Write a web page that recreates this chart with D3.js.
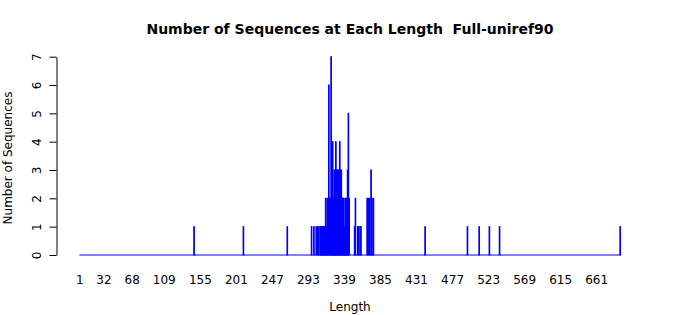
<!DOCTYPE html>
<html>
<head>
<meta charset="utf-8">
<script src="https://cdn.jsdelivr.net/npm/d3@7"></script>
<style>
  html, body { margin: 0; padding: 0; background: #ffffff; }
  svg { display: block; font-family: "DejaVu Sans", sans-serif; }
</style>
</head>
<body>
<svg id="chart" width="700" height="315"></svg>
<script>
// ---- data ----
const maxLength = 691;
const lengths = [147, 210, 266,
  297, 300, 303, 305, 306, 308, 309, 310, 311, 312, 313, 314,
  315, 316, 317, 319, 320, 321, 322, 323, 324, 325,
  326, 327, 328, 329, 330, 331, 332, 333, 334, 335, 336, 337, 338, 339, 340, 341, 342, 343, 344, 345,
  352, 353, 356, 357, 359, 360,
  368, 370, 371, 373, 374, 376,
  442, 496, 511, 524, 537, 691];
const counts = [1, 1, 1,
  1, 1, 1, 1, 1, 1, 1, 1, 1, 1, 1, 1,
  2, 1, 2, 6, 2, 2, 7, 2, 4, 2,
  3, 3, 4, 3, 3, 3, 2, 4, 3, 3, 2, 2, 2, 1, 2, 2, 2, 3, 5, 2,
  1, 2, 1, 1, 1, 1,
  2, 2, 2, 3, 2, 2,
  1, 1, 1, 1, 1, 1];
const xTickLabels = [1, 32, 68, 109, 155, 201, 247, 293, 339, 385, 431, 477, 523, 569, 615, 661];
const yTickValues = [0, 1, 2, 3, 4, 5, 6, 7];
const titleText = "Number of Sequences at Each Length  Full-uniref90";
const xTitle = "Length";
const yTitle = "Number of Sequences";

// ---- layout ----
const svg = d3.select("#chart");
const step = 0.78333;
const firstCenter = 79.7;
const x0 = firstCenter - step / 2;
const categories = d3.range(1, maxLength + 1);
const x = d3.scaleBand()
  .domain(categories)
  .range([x0, x0 + maxLength * step])
  .paddingInner(1 / 6)
  .paddingOuter(1 / 12);
const y = d3.scaleLinear().domain([0, 7]).range([255, 56.7]);

const blue = "#0000ff";

// baseline formed by the zero-height bars
svg.append("line")
  .attr("x1", x(1)).attr("x2", x(maxLength) + x.bandwidth())
  .attr("y1", y(0)).attr("y2", y(0))
  .attr("stroke", blue).attr("stroke-width", 1);

// bars
const data = lengths.map((l, i) => ({ len: l, n: counts[i] }));
svg.append("g").selectAll("rect")
  .data(data)
  .join("rect")
  .attr("x", d => x(d.len))
  .attr("width", x.bandwidth())
  .attr("y", d => y(d.n))
  .attr("height", d => y(0) - y(d.n))
  .attr("fill", blue)
  .attr("stroke", blue)
  .attr("stroke-width", 1);

// y axis
const yAxis = d3.axisLeft(y).tickValues(yTickValues).tickSize(7).tickSizeOuter(0).tickFormat("");
const gy = svg.append("g").attr("transform", "translate(56.5,0)").call(yAxis);
gy.select(".domain").attr("stroke", "#000");
gy.selectAll(".tick line").attr("stroke", "#000");
gy.selectAll(".tick").append("text")
  .attr("transform", "translate(-15.5,0) rotate(-90)")
  .attr("text-anchor", "middle")
  .attr("fill", "#000")
  .style("font-size", "12px")
  .style("font-family", "DejaVu Sans, sans-serif")
  .text(d => d);

// x tick labels (no axis line, as in the reference)
svg.append("g").selectAll("text")
  .data(xTickLabels)
  .join("text")
  .attr("x", d => x(d) + x.bandwidth() / 2)
  .attr("y", 284)
  .attr("text-anchor", "middle")
  .style("font-size", "12px")
  .text(d => d);

// titles
svg.append("text")
  .attr("x", 350).attr("y", 34)
  .attr("text-anchor", "middle")
  .style("font-size", "14px")
  .style("font-weight", "bold")
  .style("white-space", "pre")
  .text(titleText);

svg.append("text")
  .attr("x", 350).attr("y", 311)
  .attr("text-anchor", "middle")
  .style("font-size", "12px")
  .text(xTitle);

svg.append("text")
  .attr("transform", "translate(12,158) rotate(-90)")
  .attr("text-anchor", "middle")
  .style("font-size", "12px")
  .text(yTitle);
</script>
</body>
</html>
